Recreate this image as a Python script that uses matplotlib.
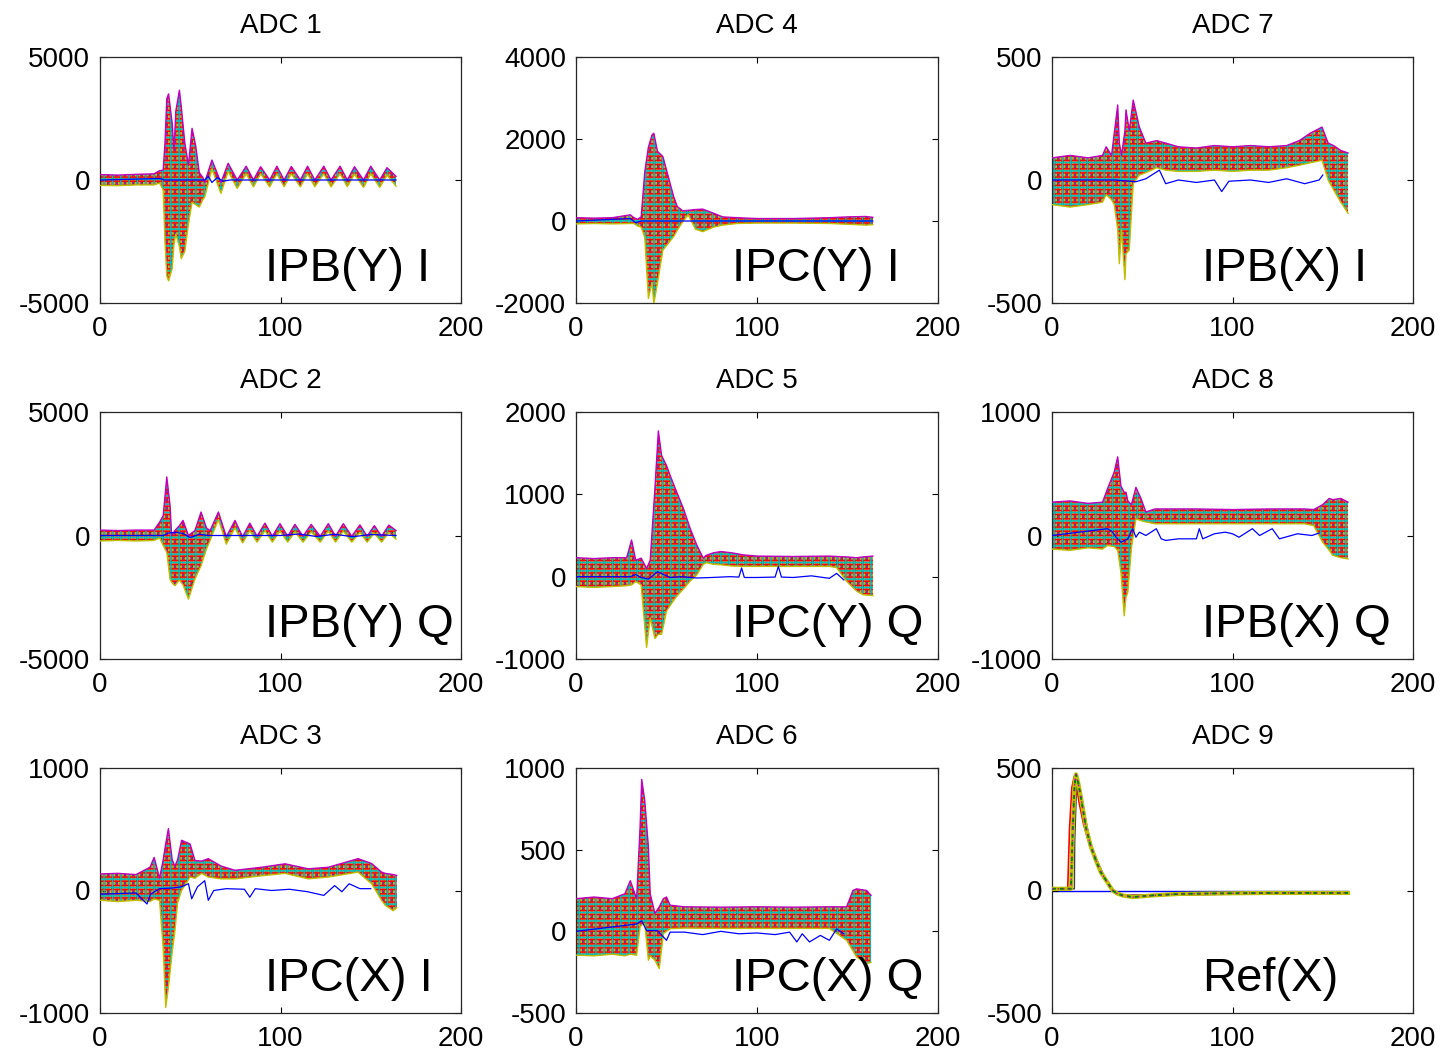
import matplotlib
matplotlib.use("Agg")
import matplotlib.pyplot as plt

plt.rcParams['font.family'] = ['Liberation Sans', 'DejaVu Sans']
plt.rcParams['hatch.linewidth'] = 1.0
plt.rcParams['axes.unicode_minus'] = False

# ---------------- data ----------------
titles = ["ADC 1", "ADC 4", "ADC 7", "ADC 2", "ADC 5", "ADC 8", "ADC 3", "ADC 6", "ADC 9"]
labels = ["IPB(Y) I", "IPC(Y) I", "IPB(X) I", "IPB(Y) Q", "IPC(Y) Q", "IPB(X) Q", "IPC(X) I", "IPC(X) Q", "Ref(X)"]
ylims = [(-5000, 5000), (-2000, 4000), (-500, 500),
         (-5000, 5000), (-1000, 2000), (-1000, 1000),
         (-1000, 1000), (-500, 1000), (-500, 500)]
yticks = [[-5000, 0, 5000], [-2000, 0, 2000, 4000], [-500, 0, 500],
          [-5000, 0, 5000], [-1000, 0, 1000, 2000], [-1000, 0, 1000],
          [-1000, 0, 1000], [-500, 0, 500, 1000], [-500, 0, 500]]
xticks = [0, 100, 200]

# ADC 1 : envelope of all shots (hi / lo) and blue reference trace
x_adc1 = [0, 10, 20, 30, 33, 35, 36, 37, 38, 40, 41, 42, 44, 45, 47, 49, 51, 53, 55, 57, 58,
          62, 67, 71, 76, 81, 85, 89, 94, 98, 102, 106, 111, 115, 119, 124, 128, 133, 137,
          141, 146, 150, 155, 159, 164]
hi_adc1 = [220, 200, 230, 250, 380, 400, 1500, 3300, 3500, 2300, 1200, 2800, 3650, 3000, 1500, 600, 2100, 1400, 300, 100, -100,
           810, -100, 680, 0, 560, 0, 540, 0, 560, 0, 550, 0, 560, 0, 560, 0, 560, 0,
           540, 0, 560, 0, 500, 150]
lo_adc1 = [-220, -230, -200, -200, -120, -400, -2500, -3900, -4100, -3600, -2600, -2200, -2700, -3200, -2900, -1800, -900, -1000, -1100, -800, -700,
           450, -540, 350, -340, 250, -280, 250, -280, 250, -270, 250, -280, 250, -270, 250, -280, 250, -270,
           230, -300, 250, -300, 200, -250]
xr_adc1 = [0, 33, 36, 58, 60, 62, 65, 68, 72, 164]
ref_adc1 = [0, 60, 0, 0, 150, -100, 100, -50, 0, 0]

# ADC 4
x_adc4 = [0, 10, 20, 30, 32, 34, 36, 38, 40, 42, 43, 45, 48, 51, 54, 56, 59, 62, 66, 70, 76, 81, 89,
          100, 120, 140, 150, 160, 164]
hi_adc4 = [80, 70, 80, 150, 80, 40, 100, 1200, 1800, 2100, 2140, 1700, 1570, 1080, 590, 350, 250, 260, 280, 290, 190, 100, 80,
           60, 60, 80, 100, 110, 90]
lo_adc4 = [-70, -60, -70, -60, -60, -120, -150, -400, -1890, -1500, -2010, -1520, -710, -545, -380, -220, -20, 150, -200, -260, -150, -100, -60,
           -50, -50, -60, -80, -100, -90]
xr_adc4 = [0, 30, 33, 36, 60, 164]
ref_adc4 = [0, 60, -40, 0, 0, 0]

# ADC 7
x_adc7 = [0, 10, 20, 28, 30, 33, 34.5, 36.4, 37.3, 38.5, 40.4, 41, 42.8, 45, 48.4, 52, 58, 63, 70,
          80, 90, 100, 110, 120, 130, 137, 143, 149.6, 153, 156, 160, 164]
hi_adc7 = [90, 100, 90, 100, 135, 100, 190, 305, 150, 100, 200, 285, 200, 325, 215, 150, 160, 150, 135,
           130, 140, 135, 140, 135, 140, 160, 190, 215, 150, 140, 120, 110]
lo_adc7 = [-100, -110, -100, -90, -60, -80, -100, -200, -340, -200, -405, -300, -285, -15, 20, 30, 50, 40, 35,
           35, 40, 35, 40, 40, 50, 60, 70, 80, 0, -40, -90, -135]
xr_adc7 = [0, 20, 35, 46.5, 52, 59.5, 63, 70, 80, 90, 94, 98, 110, 120, 130, 140, 148, 150]
ref_adc7 = [0, 0, 0, -7, 5, 40, -15, 0, -10, 0, -47, -5, 0, -10, 5, -15, 0, 20]

# ADC 2
x_adc2 = [0, 10, 20, 30, 33, 35, 37, 38.8, 39.7, 41.5, 44, 46, 49, 52.6, 56, 59, 61,
          65.6, 70, 74.8, 79, 83, 87, 91.4, 95.5, 99.7, 104, 108, 112.5, 117, 122, 126.5, 130.5,
          134.8, 139.5, 144, 148, 152, 156, 160, 164]
hi_adc2 = [220, 200, 220, 220, 540, 800, 2370, 1220, 0, 200, 400, 610, 0, 200, 950, 300, 200,
           950, -50, 610, -50, 500, -30, 500, -30, 480, -30, 450, -30, 450, -30, 480, -30,
           480, -30, 430, -30, 400, -30, 420, 200]
lo_adc2 = [-220, -200, -220, -200, -100, -400, -680, -1760, -1900, -2030, -1800, -2000, -2575, -1760, -1220, -540, -200,
           650, -350, 310, -300, 200, -270, 200, -270, 180, -270, 150, -270, 150, -270, 180, -270,
           180, -270, 130, -270, 100, -270, 120, -150]
xr_adc2 = [0, 35, 38, 42, 46, 50, 55, 60, 100, 110, 120, 130, 140, 150, 164]
ref_adc2 = [0, 0, 100, 130, 80, -80, 50, 0, 0, 60, -40, 50, -50, 40, 0]

# ADC 5
x_adc5 = [0, 10, 20, 28, 30.7, 33, 36, 39, 41, 43.6, 45.5, 47.3, 50, 52, 55.6, 59.3, 63, 66.7, 70.3,
          72, 76, 80, 86, 92.4, 100, 120, 140, 144, 149.5, 155, 158.7, 164]
hi_adc5 = [230, 220, 230, 230, 445, 200, 225, 100, 200, 1070, 1770, 1470, 1350, 1230, 1030, 830, 590, 385, 225,
           260, 290, 305, 290, 265, 250, 245, 250, 245, 240, 230, 240, 250]
lo_adc5 = [-120, -130, -120, -110, -100, -60, -100, -860, -500, -750, -700, -700, -420, -350, -240, -150, -56, 20, 150,
           170, 150, 145, 130, 125, 125, 125, 125, 110, -56, -175, -220, -230]
xr_adc5 = [0, 30, 33, 36, 40, 45, 52, 58, 66.7, 75, 85, 90, 91.5, 93, 100, 110, 111.8, 113.5, 120, 130, 140, 144, 148]
ref_adc5 = [0, 0, 25, -10, -30, 60, -10, 0, -16, -10, 0, -5, 105, -10, -10, -5, 125, -5, -10, 10, -20, 40, -40]

# ADC 8
x_adc8 = [0, 10, 20, 28, 30.8, 34.5, 36.4, 38.2, 40, 41, 42, 44, 46.5, 49.3, 52, 57, 80, 100, 120, 140,
          145, 150, 153.6, 155.5, 160, 164]
hi_adc8 = [270, 280, 260, 270, 380, 515, 637, 400, 350, 350, 280, 250, 390, 300, 190, 215, 215, 210, 215, 215,
           210, 250, 300, 290, 300, 270]
lo_adc8 = [-110, -120, -100, -110, -80, -90, -120, -300, -650, -500, -460, -100, 135, 120, 110, 95, 95, 95, 95, 95,
           80, -55, -120, -160, -180, -190]
xr_adc8 = [0, 30.8, 33.6, 35.5, 38.2, 42, 44.7, 46.5, 48.4, 52, 57.8, 60.5, 63, 70, 80, 81.6, 83.5, 90, 96, 100,
           103.6, 111, 115, 122, 126, 136, 144, 148]
ref_adc8 = [0, 55, 27, -14, -55, -27, 55, -14, 27, 0, 55, -27, -40, -27, -27, 55, -27, 14, 27, 14,
            -14, 55, 0, 55, -27, 14, 0, 20]

# ADC 3
x_adc3 = [0, 10, 20, 27.7, 30, 33, 35, 36.4, 37.9, 40, 41.5, 43, 45.2, 49.9, 52.6, 56.3, 60, 67, 74.8,
          89.6, 102.5, 115.4, 126.5, 143, 150.5, 156, 158, 162.5, 164.4]
hi_adc3 = [135, 140, 130, 190, 270, 100, 250, 380, 505, 250, 200, 250, 410, 380, 245, 240, 260, 200, 165,
           190, 218, 177, 190, 260, 220, 150, 140, 130, 123]
lo_adc3 = [-80, -90, -80, -90, -70, -80, -465, -955, -790, -500, -330, -100, 0, 110, 100, 140, 110, 95, 95,
           120, 140, 95, 110, 150, 55, -80, -120, -165, -140]
xr_adc3 = [0, 20, 26, 28, 33, 40, 45, 49, 50.8, 54, 58, 60, 63, 70, 80, 83, 86, 95, 105, 115, 124, 130, 134,
           138, 144, 150]
ref_adc3 = [-30, -20, -110, -30, 15, 20, 30, 55, -68, 30, 80, -80, 0, 15, 10, -55, 15, 0, 10, -10, -40, 40, -10,
            55, 15, 15]

# ADC 6
x_adc6 = [0, 10, 20, 27, 30, 33.5, 35.4, 36.3, 38, 40, 41, 43.6, 46, 48.3, 50, 52, 60, 80, 100, 120, 140,
          149.5, 153, 155, 160.6, 163]
hi_adc6 = [200, 210, 200, 230, 310, 200, 636, 930, 800, 515, 230, 110, 150, 200, 210, 160, 150, 148, 150, 148, 150,
           150, 250, 260, 250, 220]
lo_adc6 = [-146, -150, -140, -150, -140, -146, 26, 40, 46, -177, -150, -177, -228, -14, 0, 16, 20, 18, 18, 18, 18,
           -55, -120, -157, -197, -190]
xr_adc6 = [0, 33.5, 36.3, 39, 45, 50, 52, 60, 70, 80, 90, 100, 110, 118, 122, 125, 129, 135, 140, 144, 148]
ref_adc6 = [0, 45, 65, 5, 5, -55, -5, -5, -20, 0, -15, -10, -20, -5, -65, -15, -65, -25, -55, 15, -15]

# ADC 9 : three groups of pulses (early, main, late) and the flat blue reference
x_adc9_main = [0, 10.5, 11.5, 12.5, 13.3, 14.5, 16, 18.8, 21.5, 24.4, 27, 30, 33.6, 36, 39, 44.7, 55.8, 70.5, 90, 120, 164]
y_adc9_main = [7, 7, 250, 430, 474, 440, 380, 257, 180, 122, 75, 41, 0, -12, -20, -27, -20, -14, -12, -10, -10]
x_adc9_early = [0, 8.7, 9.7, 11, 12.4, 13.3, 15, 17.5, 21, 24, 30, 34, 40, 60, 164]
y_adc9_early = [7, 7, 250, 420, 467, 440, 360, 270, 180, 122, 41, 0, -20, -18, -10]
x_adc9_late = [0, 12.4, 12.6, 13.5, 14.2, 15.5, 17, 19.5, 22, 25, 30, 34, 40, 60, 164]
y_adc9_late = [7, 7, 200, 400, 447, 420, 360, 257, 180, 122, 41, 0, -20, -18, -10]
xr_adc9 = [0, 164]
ref_adc9 = [0, 0]

bands = [(x_adc1, hi_adc1, lo_adc1, xr_adc1, ref_adc1),
         (x_adc4, hi_adc4, lo_adc4, xr_adc4, ref_adc4),
         (x_adc7, hi_adc7, lo_adc7, xr_adc7, ref_adc7),
         (x_adc2, hi_adc2, lo_adc2, xr_adc2, ref_adc2),
         (x_adc5, hi_adc5, lo_adc5, xr_adc5, ref_adc5),
         (x_adc8, hi_adc8, lo_adc8, xr_adc8, ref_adc8),
         (x_adc3, hi_adc3, lo_adc3, xr_adc3, ref_adc3),
         (x_adc6, hi_adc6, lo_adc6, xr_adc6, ref_adc6),
         None]

# ---------------- style ----------------
ml_b = (0, 0, 1)
ml_g = (0, 0.5, 0)
ml_r = (1, 0, 0)
ml_c = (0, 0.75, 0.75)
ml_m = (0.75, 0, 0.75)
ml_y = (0.75, 0.75, 0)
ml_k = (0.25, 0.25, 0.25)
hatch_layers = [("////", ml_g), ("\\\\\\\\", ml_m), ("||||", ml_y), ("----", ml_r), ("++", ml_c)]

W, H = 1447, 1054
col_x = [(100, 461), (576, 938), (1052, 1413)]
row_y = [(57, 303), (412, 659), (768, 1013)]
label_x = [0.457, 0.431, 0.415]

fig = plt.figure(figsize=(W / 100, H / 100), dpi=100)

for i in range(9):
    r, c = divmod(i, 3)
    x0, x1 = col_x[c]
    y0, y1 = row_y[r]
    ax = fig.add_axes([x0 / W, 1 - y1 / H, (x1 - x0) / W, (y1 - y0) / H])

    if bands[i] is not None:
        xs, hi, lo, xr, ref = bands[i]
        ax.fill_between(xs, lo, hi, facecolor=(0.8, 0.4, 0.45), edgecolor='none', linewidth=0, zorder=1)
        for h, col in hatch_layers:
            ax.fill_between(xs, lo, hi, facecolor='none', edgecolor=col, hatch=h, linewidth=0, zorder=2)
        ax.plot(xs, hi, color=ml_m, lw=1.0, zorder=3)
        ax.plot(xs, lo, color=ml_y, lw=1.0, zorder=3)
        ax.plot(xr, ref, color=ml_b, lw=0.9, zorder=4)
    else:
        ax.plot(xr_adc9, ref_adc9, color=ml_b, lw=1.0, zorder=1)
        ax.plot(x_adc9_early, y_adc9_early, color=ml_r, lw=1.2, zorder=2)
        ax.plot(x_adc9_late, y_adc9_late, color=ml_k, lw=1.0, zorder=2)
        ax.plot(x_adc9_main, y_adc9_main, color=ml_y, lw=3.0, zorder=3)
        ax.plot(x_adc9_main, y_adc9_main, color=ml_g, lw=1.4, zorder=4, dashes=(2, 2))
        ax.plot(x_adc9_main, y_adc9_main, color=ml_m, lw=1.0, zorder=5, dashes=(1, 3))

    ax.set_xlim(0, 200)
    ax.set_ylim(*ylims[i])
    ax.set_xticks(xticks)
    ax.set_yticks(yticks[i])
    ax.tick_params(direction='in', length=4, width=0.8, top=True, right=True,
                   labelsize=20, colors='black')
    ax.tick_params(axis='x', pad=9)
    ax.tick_params(axis='y', pad=7)
    for s in ax.spines.values():
        s.set_linewidth(0.9)
        s.set_color((0.15, 0.15, 0.15))
    ax.set_title(titles[i], fontsize=20, pad=17)
    ax.text(label_x[c], 0.09, labels[i], transform=ax.transAxes, fontsize=34,
            ha='left', va='baseline', zorder=10)

fig.savefig("out.png", dpi=100)
